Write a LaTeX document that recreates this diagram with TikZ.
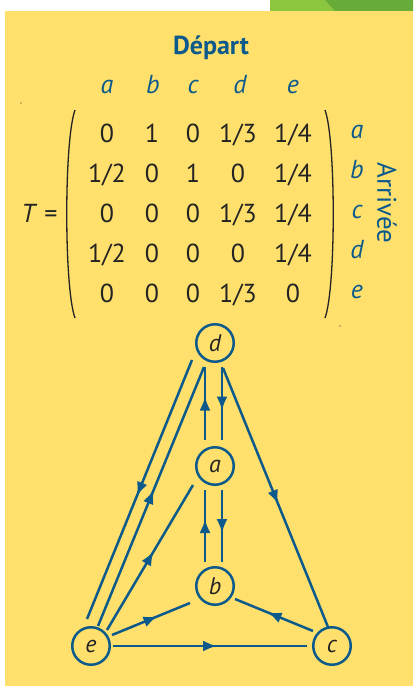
\documentclass[tikz,border=0pt]{standalone}
\usepackage{fontspec}
\setmainfont{PT Sans}
\usetikzlibrary{calc,arrows.meta,decorations.markings}
\definecolor{panel}{RGB}{255,224,108}
\definecolor{ink}{RGB}{12,90,140}
\definecolor{txt}{RGB}{35,35,35}
\definecolor{lgreen}{RGB}{140,198,63}
\definecolor{dgreen}{RGB}{103,172,57}
\begin{document}
\begin{tikzpicture}[x=1pt,y=-1pt,
  vertex/.style={circle,draw=ink,line width=2.5pt,minimum size=37.5pt,inner sep=0pt,text=txt,font=\fontsize{24}{26}\selectfont\itshape},
  link/.style={color=ink,line width=2.5pt},
  midarrow/.style={postaction={decorate},decoration={markings,mark=at position 0.5 with {\arrow[xshift=7pt]{Latex[length=14pt,width=11pt]}}}},
  entry/.style={anchor=base,text=txt,font=\fontsize{26}{30}\selectfont},
  lab/.style={anchor=base,text=ink,font=\fontsize{26}{30}\selectfont\itshape},
  heading/.style={text=ink,font=\fontsize{27}{30}\selectfont},
  paren/.style={draw=txt,line width=1.3pt}]
\useasboundingbox (0,0) rectangle (413,686);
\fill[white] (0,0) rectangle (413,686);
% green tab
\fill[lgreen] (270,0) rectangle (413,11);
\fill[dgreen] (325,0) -- (413,0) -- (413,11) -- (335,11) -- cycle;
% panel
\fill[panel] (5,11) rectangle (413,686);
% tiny marks
\fill[txt] (21,103) circle (0.7);
\fill[txt] (340,326) circle (0.7);
% headings
\node[heading,anchor=base,font=\fontsize{26}{30}\selectfont\bfseries] (dep) at (211,54) {Départ};
\node[heading,rotate=-90] (arr) at (387,203) {Arrivée};
% column labels
\node[lab] (col1) at (107,93) {a};
\node[lab] (col2) at (153,93) {b};
\node[lab] (col3) at (193,93) {c};
\node[lab] (col4) at (240,93) {d};
\node[lab] (col5) at (293,93) {e};
% row labels
\foreach \l [count=\r] in {a,b,c,d,e}
  \node[lab] (row\r) at (357,{98+40*\r}) {\l};
% matrix
\foreach \row [count=\r] in {{0,1,0,1/3,1/4},{1/2,0,1,0,1/4},{0,0,0,1/3,1/4},{1/2,0,0,0,1/4},{0,0,0,1/3,0}}{
  \foreach \v [count=\c] in \row {
    \pgfmathsetmacro\xx{{107,152,193,238,293}[\c-1]}
    \node[entry] (m\r\c) at (\xx,{102+40*\r}) {\v};
  }
}
\node[entry,anchor=base east] (teq) at (61,222) {\textit{T} =};
% parentheses
\draw[paren] (75,110) .. controls (64,140) and (64,288) .. (75,318);
\draw[paren] (325,110) .. controls (336,140) and (336,288) .. (325,318);
% graph
\node[vertex] (d) at (215,343) {d};
\node[vertex] (a) at (215,466) {a};
\node[vertex] (b) at (215,586) {b};
\node[vertex] (e) at (91,646) {e};
\node[vertex] (c) at (332,646) {c};
\draw[link,midarrow] ($(a)+(-10,-26)$) -- ($(d)+(-10,24)$);
\draw[link,midarrow] ($(d)+(7,24)$) -- ($(a)+(7,-26)$);
\draw[link,midarrow] ($(b)+(-10,-24)$) -- ($(a)+(-10,24)$);
\draw[link,midarrow] ($(a)+(7,24)$) -- ($(b)+(7,-24)$);
\draw[link,midarrow] ($(d)+(-23,17)$) -- ($(e)+(-4,-27)$);
\draw[link,midarrow] ($(e)+(7,-20)$) -- ($(d)+(-11,24)$);
\draw[link,midarrow] ($(e)+(16,-16)$) -- ($(a)+(-22,19)$);
\draw[link,midarrow] ($(d)+(8,25)$) -- ($(c)+(-4,-19)$);
\draw[link,midarrow] ($(e)+(21,-11)$) -- ($(b)+(-25,17)$);
\draw[link,midarrow] ($(c)+(-19,-15)$) -- ($(b)+(20,13)$);
\draw[link,midarrow] ($(e)+(22,0)$) -- ($(c)+(-25,0)$);
\end{tikzpicture}
\end{document}
